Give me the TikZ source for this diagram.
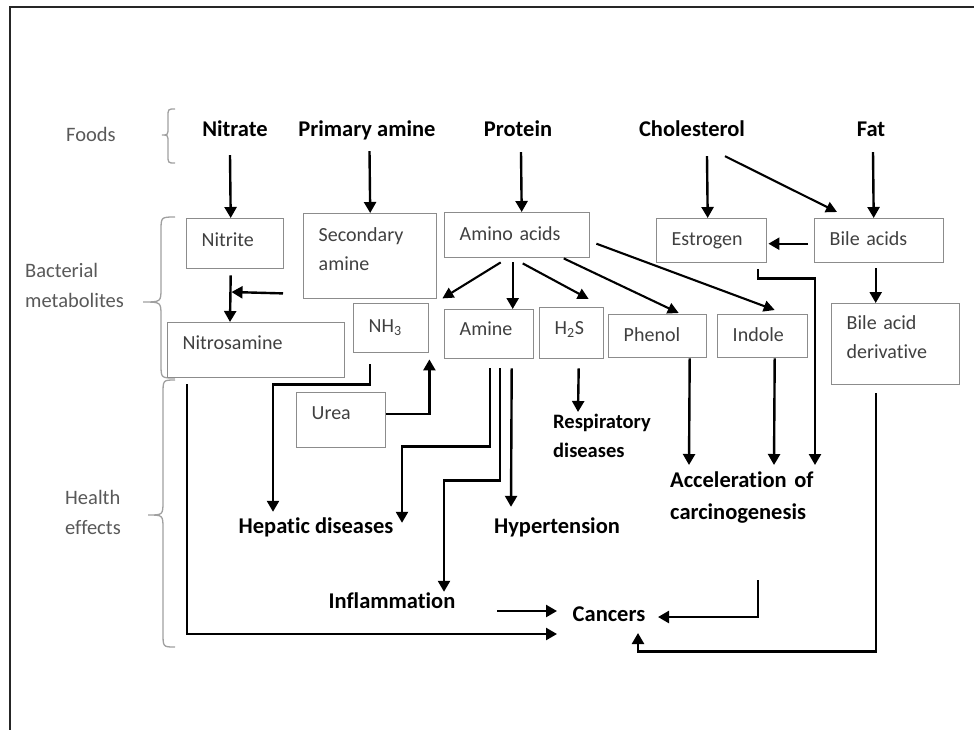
\documentclass[tikz,border=0pt]{standalone}
\usepackage{fontspec}
\setmainfont{Carlito}[Ligatures=NoCommon]
\usetikzlibrary{arrows.meta,calc}
\definecolor{boxgray}{HTML}{8C8C8C}
\definecolor{boxtext}{HTML}{404040}
\definecolor{lbltext}{HTML}{595959}
\definecolor{bracegray}{HTML}{A0A0A0}
\definecolor{framecol}{HTML}{262626}
\newcommand\bxf{\fontsize{20}{29}\selectfont}
\newcommand\bdf{\fontsize{22.5}{32}\selectfont\bfseries}
\newcommand\rsf{\fontsize{20.5}{29}\selectfont\bfseries}
\newcommand\lbf{\fontsize{20.5}{30}\selectfont}
\newcommand\brc[7]{\draw[brace] (#1,#4) .. controls (#2,#4) .. (#2,#4+#7) -- (#2,#5-#7) .. controls (#2,#5) .. (#3,#5) .. controls (#2,#5) .. (#2,#5+#7) -- (#2,#6-#7) .. controls (#2,#6) .. (#1,#6);}
\begin{document}
\begin{tikzpicture}[x=1pt,y=-1pt,
  mbox/.style={draw=boxgray,line width=1.4pt,anchor=north west,align=left,inner xsep=15pt,inner ysep=0pt,font=\bxf,text=boxtext},
  bt/.style={font=\bdf,inner sep=0pt,text height=16pt,text depth=6pt,anchor=base},
  lbl/.style={font=\lbf,text=lbltext,align=left,inner sep=0pt},
  arr/.style={line width=2.4pt,-{Triangle[length=11pt,width=12pt]}},
  darr/.style={line width=2.1pt,-{Triangle[length=11pt,width=11pt]}},
  brace/.style={draw=bracegray,line width=1.3pt}]
\useasboundingbox (0,0) rectangle (974,729);
\fill[white] (0,0) rectangle (974,729);
\draw[line width=2pt,framecol] (10,740) -- (10,7) -- (985,7);

% row labels and braces
\node[lbl,anchor=base] (foods) at (91,141) {Foods};
\node[lbl,anchor=north west,text width=110pt,text height=15pt] (bact) at (25,262) {Bacterial\\metabolites};
\node[lbl,anchor=north west,text width=70pt,text height=15pt] (health) at (65,489) {Health\\effects};
\brc{175}{168}{162}{109}{135}{163}{8}
\brc{175}{161}{143}{217}{302}{378}{14}
\brc{175}{163}{148}{380}{515}{647}{14}

% foods
\node[bt] (nitrate) at (235,136) {Nitrate};
\node[bt] (pamine) at (367,136) {Primary amine};
\node[bt] (protein) at (518,136) {Protein};
\node[bt] (chol) at (692,136) {Cholesterol};
\node[bt] (fat) at (871,136) {Fat};

% bacterial metabolites
\node[mbox,text width=67pt,text height=28pt,text depth=22pt] (nitrite) at (186,218) {Nitrite};
\node[mbox,text width=103pt,text height=28pt,text depth=57pt] (secam) at (303,213) {Secondary\\amine};
\node[mbox,text width=115pt,text height=28pt,text depth=17pt] (amino) at (444,212) {Amino acids};
\node[mbox,text width=80pt,text height=27pt,text depth=17pt] (estrogen) at (656,218) {Estrogen};
\node[mbox,text width=99pt,text height=27pt,text depth=17pt] (bile) at (814,218) {Bile acids};
\node[mbox,text width=147pt,text height=27pt,text depth=28pt] (nitros) at (167,322) {Nitrosamine};
\node[mbox,text width=45pt,text height=29pt,text depth=20pt] (nh3) at (353,303) {NH\textsubscript{3}};
\node[mbox,text width=59pt,text height=26pt,text depth=23pt] (amine) at (444,309) {Amine};
\node[mbox,text width=34pt,text height=27pt,text depth=24pt] (h2s) at (539,307) {H\textsubscript{2}S};
\node[mbox,text width=68pt,text height=27pt,text depth=16pt] (phenol) at (608,314) {Phenol};
\node[mbox,text width=60pt,text height=27pt,text depth=16pt] (indole) at (717,314) {Indole};
\node[mbox,text width=98pt,text height=26pt,text depth=55pt] (deriv) at (831,303) {Bile acid\\derivative};
\node[mbox,text width=59pt,text height=27pt,text depth=28pt] (urea) at (296,392) {Urea};

% health effects
\node[bt] (hepatic) at (316,533) {Hepatic diseases};
\node[bt] (hyper) at (557,533) {Hypertension};
\node[bt] (inflam) at (392,608) {Inflammation};
\node[bt] (cancers) at (609,621) {Cancers};
\node[font=\rsf,inner sep=0pt,anchor=north west,align=left,text width=110pt,text height=14pt,text depth=35pt] (resp) at (553,414) {Respiratory\\diseases};
\node[font=\bdf,inner sep=0pt,anchor=north west,align=left,text width=160pt,text height=16pt,text depth=38pt] (accel) at (670,471) {Acceleration of\\carcinogenesis};

\coordinate (join) at (231.5,292);

% foods -> metabolites
\draw[arr] ($(nitrate.south)+(-5,13)$) -- ($(nitrite.north)+(-4.5,0)$);
\draw[arr] ($(pamine.south)+(2.5,9)$) -- (secam.north);
\draw[arr] ($(protein.south)+(3,10)$) -- ($(amino.north)+(4.5,0)$);
\draw[arr] ($(chol.south)+(15,14)$) -- ($(estrogen.north)+(-4,0)$);
\draw[darr] ($(chol.south)+(33,14)$) -- ($(bile.north west)+(23,-6)$);
\draw[arr] ($(fat.south)+(2,10)$) -- ($(bile.north)+(-5.5,0)$);

% metabolites
\draw[arr] ($(nitrite.south)+(-4.5,6)$) -- ($(nitros.north west)+(63,0)$);
\draw[arr] ($(secam.south west)+(-20,-6)$) -- (join);
\draw[darr] ($(amino.south)+(-16.5,4)$) -- ($(secam.south east)+(5,-1)$);
\draw[arr] ($(amino.south)+(-4.5,4)$) -- ($(amine.north)+(23.5,0)$);
\draw[darr] ($(amino.south)+(5.5,5)$) -- ($(h2s.north)+(17,-8)$);
\draw[darr] ($(amino.south)+(46.5,0)$) -- ($(phenol.north)+(21,-1)$);
\draw[darr] ($(amino.east)+(6,8.5)$) -- ($(indole.north)+(12,-4)$);
\draw[arr] ($(bile.west)+(-6,3)$) -- ($(estrogen.east)+(1,3)$);
\draw[arr] ($(bile.south)+(-3.5,5)$) -- ($(deriv.north)+(-20,0)$);
\draw[arr] ($(urea.east)+(0,-6.5)$) -| ($(nh3.south east)+(0,6)$);

% metabolites -> health effects
\draw[arr] ($(nh3.south)+(-21.5,11)$) -- ++(0,20) -| ($(hepatic.north)+(-43,-5)$);
\draw[arr] ($(amine.south)+(0.5,9)$) -- ++(0,78) -| ($(hepatic.north)+(86,6)$);
\draw[arr] ($(amine.south)+(10.5,9)$) -- ++(0,112) -| ($(inflam.north)+(52,0)$);
\draw[arr] ($(amine.south)+(22.5,9)$) -- ($(hyper.north)+(-46,-10)$);
\draw[arr] ($(h2s.south)+(7,9)$) -- ($(resp.north west)+(25,-2)$);
\draw[arr] ($(phenol.south)+(32,0)$) -- ($(accel.north west)+(19,-6)$);
\draw[arr] ($(indole.south)+(12,0)$) -- ($(accel.north west)+(104,-6)$);
\draw[arr] ($(estrogen.south)+(46,6)$) -- ++(0,9) -| ($(accel.north west)+(145,-6)$);

% -> cancers
\draw[arr] ($(inflam.base)+(105,3)$) -- ($(cancers.base)+(-52,-10)$);
\draw[arr] ($(nitros.south west)+(20,6)$) |- ($(cancers.base)+(-52,13)$);
\draw[arr] ($(accel.north west)+(88,109)$) |- ($(cancers.base)+(49,-4)$);
\draw[arr] ($(deriv.south)+(-20,8)$) -- ++(0,258) -| ($(cancers.base)+(29,12)$);
\end{tikzpicture}
\end{document}
